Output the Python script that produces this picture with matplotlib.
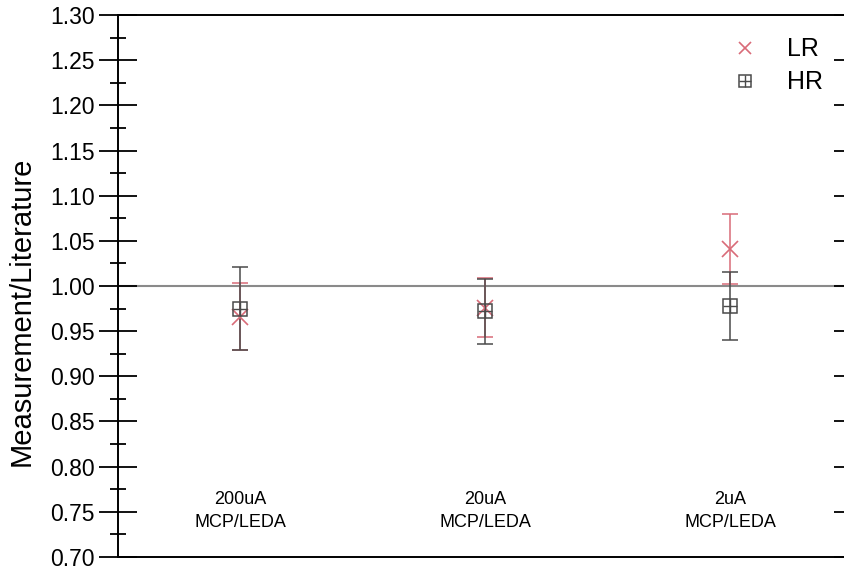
import matplotlib
matplotlib.use("Agg")
import matplotlib.pyplot as plt
from matplotlib.ticker import MultipleLocator, FormatStrFormatter
from matplotlib.legend_handler import HandlerTuple

plt.rcParams['font.family'] = ['Liberation Sans', 'DejaVu Sans']

# data
categories = ["200uA\nMCP/LEDA", "20uA\nMCP/LEDA", "2uA\nMCP/LEDA"]
xpos = [1, 2, 3]
lr_val = [0.966, 0.976, 1.041]
lr_err = [0.037, 0.033, 0.039]
hr_val = [0.975, 0.972, 0.978]
hr_err = [0.046, 0.036, 0.038]

red = '#d96b78'
dark = '#4a4a4a'

fig = plt.figure(figsize=(8.45, 5.70), dpi=100)
ax = fig.add_axes([118/845, 1-557/570, (853-118)/845, (557-15)/570])

ax.axhline(1.0, color='#8a8a8a', lw=1.5, zorder=1)

ax.errorbar(xpos, lr_val, yerr=lr_err, fmt='none', ecolor=red, elinewidth=1.1,
            capsize=6, capthick=1.1, zorder=2)
ax.errorbar(xpos, hr_val, yerr=hr_err, fmt='none', ecolor=dark, elinewidth=1.1,
            capsize=6, capthick=1.1, zorder=3)

lr_mk, = ax.plot(xpos, lr_val, ls='none', marker='x', ms=11, mew=1.2, color=red, zorder=4)
hr_sq, = ax.plot(xpos, hr_val, ls='none', marker='s', ms=10, mew=1.1, mfc='none',
                 mec=dark, zorder=5)
hr_pl, = ax.plot(xpos, hr_val, ls='none', marker='+', ms=10, mew=1.0, color=dark, zorder=5)

for x, lab in zip(xpos, categories):
    ax.text(x, 0.751, lab, ha='center', va='center', fontsize=13, linespacing=1.45)

ax.set_xlim(0.5, 3.5)
ax.set_ylim(0.70, 1.30)
ax.yaxis.set_major_locator(MultipleLocator(0.05))
ax.yaxis.set_minor_locator(MultipleLocator(0.025))
ax.yaxis.set_major_formatter(FormatStrFormatter('%.2f'))
ax.set_xticks([])
ax.tick_params(axis='y', which='major', direction='inout', length=28, width=1.3,
               labelsize=16.5, right=True, pad=3)
ax.tick_params(axis='y', which='minor', direction='inout', length=11, width=1.3, right=True)
for s in ax.spines.values():
    s.set_linewidth(1.4)
ax.set_ylabel('Measurement/Literature', fontsize=21)
ax.yaxis.set_label_coords(-0.112, 0.454)

leg = ax.legend([lr_mk, (hr_sq, hr_pl)], ['LR', 'HR'],
                handler_map={tuple: HandlerTuple(ndivide=1, pad=0)},
                loc='upper right', bbox_to_anchor=(0.99, 1.0), frameon=False,
                fontsize=18, handlelength=1.0, handletextpad=1.2, labelspacing=0.35,
                markerscale=0.85)

fig.savefig('out.png', dpi=100)
